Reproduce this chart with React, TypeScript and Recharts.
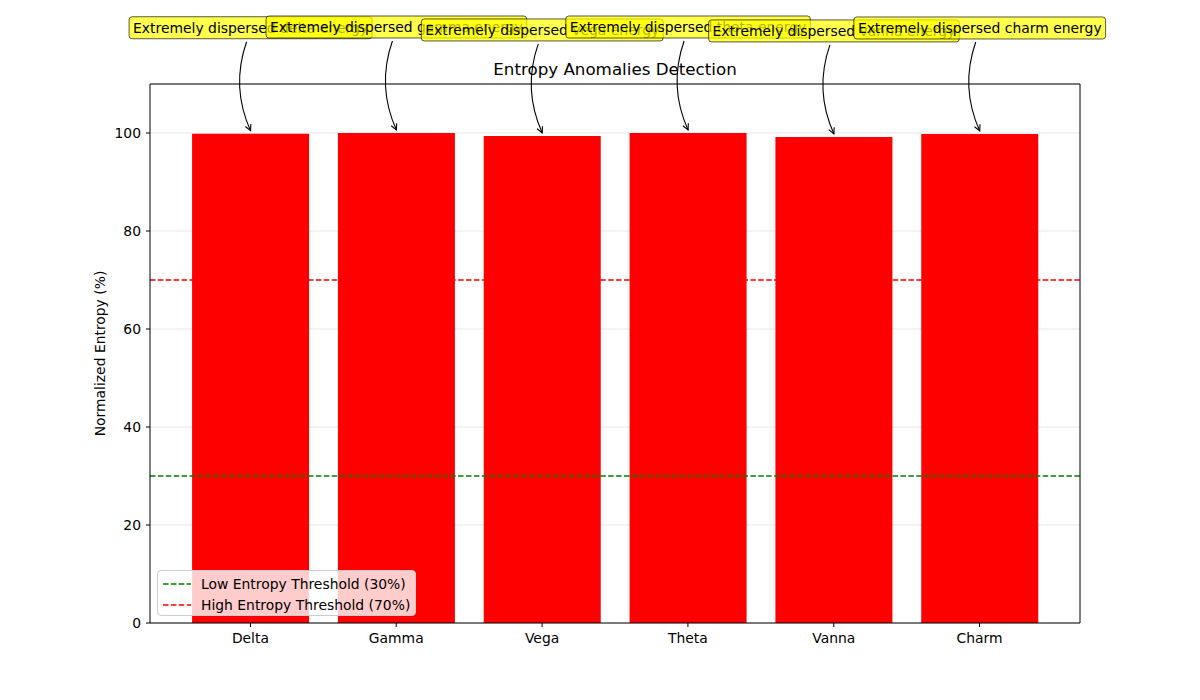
import React from 'react';
import { BarChart, Bar, XAxis, YAxis, CartesianGrid, ReferenceLine, Legend } from 'recharts';

const greeks = ['Delta', 'Gamma', 'Vega', 'Theta', 'Vanna', 'Charm'];
const entropyPct = [99.85, 100.0, 99.4, 100.0, 99.2, 99.8];
const annotationTexts = greeks.map((g) => `Extremely dispersed ${g.toLowerCase()} energy`);
const yTicks = [0, 20, 40, 60, 80, 100];
const thresholds = [
  { value: 30, color: '#008000', label: 'Low Entropy Threshold (30%)' },
  { value: 70, color: '#ff0000', label: 'High Entropy Threshold (70%)' },
];

const data = greeks.map((name, i) => ({ name, entropy: entropyPct[i] }));

const FONT = 'DejaVu Sans, sans-serif';

// measure annotation text so the yellow boxes hug it like matplotlib's bbox
let ctx: CanvasRenderingContext2D | null = null;
const textWidth = (s: string) => {
  if (!ctx) ctx = document.createElement('canvas').getContext('2d');
  if (!ctx) return s.length * 7.4;
  ctx.font = '13.9px "DejaVu Sans"';
  return ctx.measureText(s).width;
};

const Annotation = (props: any) => {
  const vb = props.viewBox || {};
  const x = props.x ?? vb.x;
  const y = props.y ?? vb.y;
  const width = props.width ?? vb.width;
  const idx = props.index ?? 0;
  const text = annotationTexts[idx];
  const cx = x + width / 2;
  const ty = y - 106;
  const w = textWidth(text);

  // curved arrow (arc3-ish) from box bottom to bar top
  const sx = cx - 4, sy = ty + 14;
  const ex = cx, ey = y - 3;
  const mx = (sx + ex) / 2, my = (sy + ey) / 2;
  const rad = 0.2;
  const qx = mx - rad * (ey - sy);
  const qy = my + rad * (ex - sx);
  const ang = Math.atan2(ey - qy, ex - qx);
  const hl = 6, hw = 3;
  const bx = ex - hl * Math.cos(ang), by = ey - hl * Math.sin(ang);
  const p1 = `${bx - hw * Math.sin(ang)},${by + hw * Math.cos(ang)}`;
  const p2 = `${bx + hw * Math.sin(ang)},${by - hw * Math.cos(ang)}`;

  return (
    <g>
      <path d={`M${sx},${sy} Q${qx},${qy} ${ex},${ey}`} fill="none" stroke="#000" strokeWidth={1.1} />
      <polyline points={`${p1} ${ex},${ey} ${p2}`} fill="none" stroke="#000" strokeWidth={1.1} />
      <rect x={cx - w / 2 - 4} y={ty - 11} width={w + 8} height={22} rx={3}
        fill="#ffff00" fillOpacity={0.7} stroke="#000" strokeOpacity={0.65} strokeWidth={1} />
      <text x={cx} y={ty + 5} textAnchor="middle" fontFamily={FONT} fontSize={13.9} fill="#000">{text}</text>
    </g>
  );
};

const ThresholdLegend = () => (
  <div style={{
    boxSizing: 'border-box', width: 259, height: 46, padding: '2px 0 0 5px',
    background: 'rgba(255,255,255,0.8)', border: '1px solid #cccccc', borderRadius: 4,
    fontFamily: FONT, fontSize: 13.9, color: '#000',
  }}>
    {thresholds.map((t) => (
      <div key={t.label} style={{ display: 'flex', alignItems: 'center', height: 21 }}>
        <svg width={28} height={10} style={{ marginRight: 10 }}>
          <line x1={0} y1={5} x2={28} y2={5} stroke={t.color} strokeWidth={1.5} strokeDasharray="5.5 2.4" />
        </svg>
        <span>{t.label}</span>
      </div>
    ))}
  </div>
);

export default function App() {
  return (
    <div style={{ position: 'absolute', left: 0, top: 0, width: 1200, height: 700, background: '#fff' }}>
      <div style={{
        position: 'absolute', left: 0, width: 1230, top: 59, textAlign: 'center',
        fontFamily: FONT, fontSize: 16.7, color: '#000', zIndex: 2,
      }}>
        Entropy Anomalies Detection
      </div>
      <BarChart width={1200} height={700} data={data}
        margin={{ top: 83, right: 119, bottom: 47, left: 90 }}>
        <CartesianGrid vertical={false} stroke="#e6e6e6" />
        <XAxis dataKey="name" height={30} padding={{ left: 27.5, right: 27.5 }}
          axisLine={{ stroke: '#000' }} tickLine={{ stroke: '#000' }} tickSize={4} tickMargin={6}
          tick={{ fill: '#000', fontSize: 13.9, fontFamily: FONT }} interval={0} />
        {/* top and right spines */}
        <XAxis xAxisId="top" orientation="top" dataKey="name" height={1} tick={false} tickLine={false}
          axisLine={{ stroke: '#000' }} />
        <YAxis yAxisId="right" orientation="right" width={1} domain={[0, 110]} tick={false} tickLine={false}
          axisLine={{ stroke: '#000' }} />
        <YAxis width={60} domain={[0, 110]} ticks={yTicks} allowDataOverflow
          axisLine={{ stroke: '#000' }} tickLine={{ stroke: '#000' }} tickSize={4} tickMargin={5}
          tick={{ fill: '#000', fontSize: 13.9, fontFamily: FONT }}
          label={{ value: 'Normalized Entropy (%)', angle: -90, position: 'insideLeft', offset: 10,
            style: { textAnchor: 'middle', fontSize: 13.9, fontFamily: FONT, fill: '#000' } }} />
        <Bar dataKey="entropy" fill="#ff0000" isAnimationActive={false} label={(p: any) => <Annotation {...p} />} />
        {thresholds.map((t) => (
          <ReferenceLine key={t.value} y={t.value} stroke={t.color} strokeWidth={1.5} strokeDasharray="5.5 2.4" />
        ))}
        <Legend layout="horizontal" verticalAlign="middle" align="center"
          wrapperStyle={{ left: 157, top: 570, width: 'auto', height: 'auto' }}
          content={() => <ThresholdLegend />} />
      </BarChart>
    </div>
  );
}
